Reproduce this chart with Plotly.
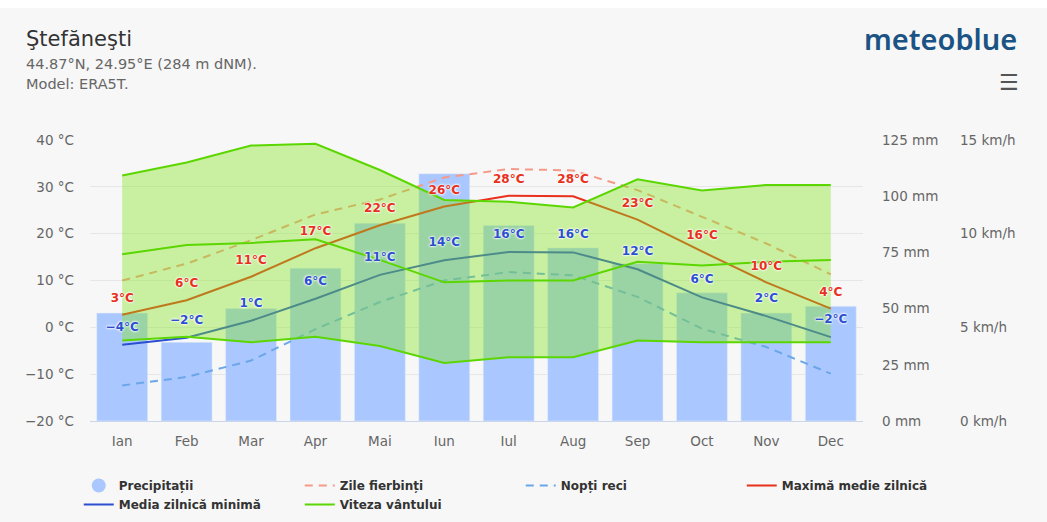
import plotly.graph_objects as go

months = ["Ian", "Feb", "Mar", "Apr", "Mai", "Iun", "Iul", "Aug", "Sep", "Oct", "Nov", "Dec"]
precip_mm = [48, 35, 50, 68, 88, 110, 87, 77, 70, 57, 48, 51]
temp_max = [2.7, 5.8, 10.8, 16.9, 21.8, 25.8, 28.1, 28.0, 23.0, 16.2, 9.6, 4.0]
temp_min = [-3.7, -2.2, 1.4, 6.1, 11.2, 14.3, 16.1, 16.0, 12.4, 6.4, 2.4, -2.1]
hot_days = [10.0, 13.6, 18.6, 24.1, 27.3, 32.0, 33.8, 33.5, 29.3, 23.6, 17.9, 11.3]
cold_nights = [-12.4, -10.6, -7.1, -0.4, 5.4, 10.0, 11.8, 11.1, 6.5, -0.3, -4.2, -9.9]
wind_max = [13.1, 13.8, 14.7, 14.8, 13.4, 11.8, 11.7, 11.4, 12.9, 12.3, 12.6, 12.6]
wind_mean = [8.9, 9.4, 9.5, 9.7, 8.6, 7.4, 7.5, 7.5, 8.5, 8.3, 8.5, 8.6]
wind_min = [4.3, 4.5, 4.2, 4.5, 4.0, 3.1, 3.4, 3.4, 4.3, 4.2, 4.2, 4.2]

temp_ticks = [-20, -10, 0, 10, 20, 30, 40]
precip_ticks = [0, 25, 50, 75, 100, 125]
wind_ticks = [0, 5, 10, 15]

FONT = "DejaVu Sans, Verdana, sans-serif"
BG = "#f7f7f7"
C_BAR = "#aac8ff"
C_RED = "#e8301c"
C_BLUE = "#2b4fd0"
C_HOT = "#f59a88"
C_COLD = "#6aa6e8"
C_GREEN = "#5cd600"


def fmt(v):
    r = int(round(v))
    return (f"−{abs(r)}" if r < 0 else str(r)) + "°C"


fig = go.Figure()

# precipitation bars (main y axis, drawn first)
fig.add_trace(go.Bar(x=months, y=precip_mm, yaxis="y", marker_color=C_BAR,
                     width=0.79, showlegend=False, hoverinfo="skip"))
fig.add_trace(go.Scatter(x=[None], y=[None], mode="markers", name="Precipitații",
                         marker=dict(symbol="circle", size=14, color=C_BAR),
                         legendrank=1))

# temperature lines (y2)
fig.add_trace(go.Scatter(x=months, y=hot_days, yaxis="y2", mode="lines", name="Zile fierbinți",
                         line=dict(color=C_HOT, width=2, dash="8px,6px"), legendrank=2))
fig.add_trace(go.Scatter(x=months, y=cold_nights, yaxis="y2", mode="lines", name="Nopți reci",
                         line=dict(color=C_COLD, width=2, dash="8px,6px"), legendrank=3))
fig.add_trace(go.Scatter(x=months, y=temp_max, yaxis="y2", mode="lines", name="Maximă medie zilnică",
                         line=dict(color=C_RED, width=2), legendrank=4))
fig.add_trace(go.Scatter(x=months, y=temp_min, yaxis="y2", mode="lines", name="Media zilnică minimă",
                         line=dict(color=C_BLUE, width=2), legendrank=5))

# wind band (y3)
fig.add_trace(go.Scatter(x=months, y=wind_min, yaxis="y3", mode="lines",
                         line=dict(color=C_GREEN, width=2), showlegend=False))
fig.add_trace(go.Scatter(x=months, y=wind_max, yaxis="y3", mode="lines", fill="tonexty",
                         fillcolor="rgba(130,230,30,0.4)",
                         line=dict(color=C_GREEN, width=2), showlegend=False))
fig.add_trace(go.Scatter(x=months, y=wind_mean, yaxis="y3", mode="lines", name="Viteza vântului",
                         line=dict(color=C_GREEN, width=2), legendrank=6))

# data labels (y4, on top)
shadow = "0 0 2px #fff, 0 0 2px #fff, 0 0 3px #fff"
fig.add_trace(go.Scatter(x=months, y=temp_max, yaxis="y4", mode="markers+text",
                         text=[fmt(v) for v in temp_max], textposition="top center",
                         marker=dict(size=14, color="rgba(0,0,0,0)"),
                         textfont=dict(color=C_RED, size=12, family=FONT, weight="bold", shadow=shadow),
                         showlegend=False, hoverinfo="skip"))
fig.add_trace(go.Scatter(x=months, y=temp_min, yaxis="y4", mode="markers+text",
                         text=[fmt(v) for v in temp_min], textposition="top center",
                         marker=dict(size=16, color="rgba(0,0,0,0)"),
                         textfont=dict(color=C_BLUE, size=12, family=FONT, weight="bold", shadow=shadow),
                         showlegend=False, hoverinfo="skip"))

dom_end = (863 - 90) / 937
tickfont = dict(size=13.5, color="#666666", family=FONT)


def px_y(py):
    return (421 - py) / 281


def px_x(px):
    return (px - 90) / 937


fig.update_layout(
    width=1047, height=522,
    margin=dict(l=90, r=20, t=140, b=101, autoexpand=False),
    paper_bgcolor=BG, plot_bgcolor=BG,
    font=dict(family=FONT),
    barmode="overlay",
    xaxis=dict(domain=[0, dom_end], type="category", range=[-0.5, 11.5],
               showgrid=False, showline=True, linecolor="#ccd6eb", ticks="",
               tickfont=tickfont, ticklabelstandoff=8, zeroline=False),
    yaxis=dict(range=[0, 125], side="right", tickvals=precip_ticks,
               ticktext=[f"{v} mm" for v in precip_ticks], showgrid=False,
               zeroline=False, tickfont=tickfont, ticklabelstandoff=18, ticks=""),
    yaxis2=dict(range=[-20, 40], overlaying="y", side="left", tickvals=temp_ticks,
                ticktext=[(f"−{abs(v)}" if v < 0 else str(v)) + " °C" for v in temp_ticks],
                showgrid=True, gridcolor="#e6e6e6", zeroline=False,
                tickfont=tickfont, ticklabelstandoff=15, ticks=""),
    yaxis3=dict(range=[0, 15], overlaying="y", side="right", anchor="free",
                position=px_x(945), tickvals=wind_ticks,
                ticktext=[f"{v} km/h" for v in wind_ticks], showgrid=False,
                zeroline=False, tickfont=tickfont, ticklabelstandoff=14, ticks=""),
    yaxis4=dict(range=[-20, 40], overlaying="y", visible=False, showgrid=False),
    legend=dict(orientation="h", x=-0.012, xanchor="left",
                y=px_y(519), yanchor="bottom",
                entrywidth=176, entrywidthmode="pixels", itemwidth=30,
                font=dict(size=12, color="#333333", family=FONT, weight="bold"),
                bgcolor="rgba(0,0,0,0)", traceorder="normal", tracegroupgap=0),
    showlegend=True,
)

fig.add_shape(type="rect", xref="paper", yref="paper",
              x0=-90 / 937, x1=(1047 - 90) / 937, y0=px_y(8), y1=px_y(-2),
              fillcolor="#ffffff", line=dict(width=0), layer="below")

fig.add_annotation(text="Ştefăneşti", xref="paper", yref="paper", x=px_x(24), y=px_y(39),
                   xanchor="left", yanchor="middle", showarrow=False,
                   font=dict(size=21, color="#333333", family=FONT))
fig.add_annotation(text="44.87°N, 24.95°E (284 m dNM).", xref="paper", yref="paper",
                   x=px_x(24), y=px_y(64), xanchor="left", yanchor="middle", showarrow=False,
                   font=dict(size=14.5, color="#666666", family=FONT))
fig.add_annotation(text="Model: ERA5T.", xref="paper", yref="paper",
                   x=px_x(24), y=px_y(84), xanchor="left", yanchor="middle", showarrow=False,
                   font=dict(size=14.5, color="#666666", family=FONT))
fig.add_annotation(text="meteoblue", xref="paper", yref="paper",
                   x=px_x(1019), y=px_y(38), xanchor="right", yanchor="middle", showarrow=False,
                   font=dict(size=29, color="#1a5384", family="Noto Sans, sans-serif", weight=600))
fig.add_annotation(text="☰", xref="paper", yref="paper",
                   x=px_x(1009), y=px_y(82), xanchor="center", yanchor="middle", showarrow=False,
                   font=dict(size=22, color="#555555", family="DejaVu Sans"))

fig.write_html("out.html", config={"displayModeBar": False},
               post_script="document.body.style.margin='0';")
